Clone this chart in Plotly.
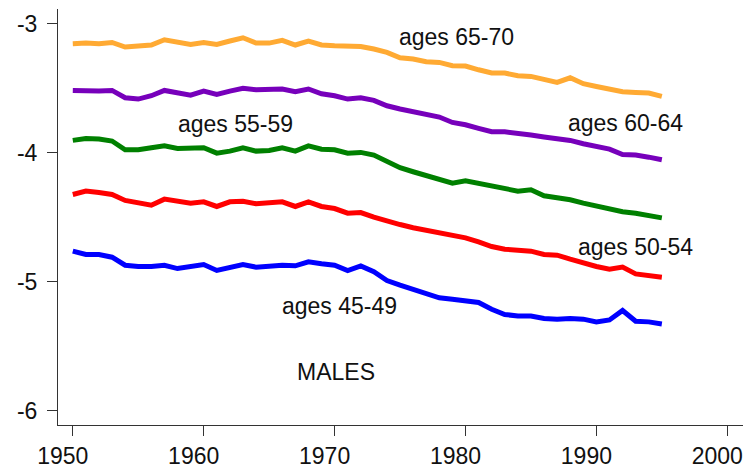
import plotly.graph_objects as go

years = list(range(1950, 1996))

ages_65_70 = [-3.155, -3.150, -3.155, -3.145, -3.181, -3.171, -3.165, -3.124, -3.140, -3.160,
              -3.145, -3.160, -3.134, -3.109, -3.150, -3.150, -3.129, -3.165, -3.134, -3.165,
              -3.171, -3.176, -3.176, -3.196, -3.222, -3.264, -3.274, -3.295, -3.300, -3.326,
              -3.328, -3.357, -3.382, -3.382, -3.403, -3.408, -3.429, -3.455, -3.419, -3.465,
              -3.486, -3.506, -3.527, -3.532, -3.537, -3.563]
ages_60_64 = [-3.517, -3.522, -3.522, -3.517, -3.574, -3.584, -3.558, -3.517, -3.537, -3.553,
              -3.522, -3.548, -3.522, -3.501, -3.512, -3.512, -3.506, -3.527, -3.506, -3.543,
              -3.558, -3.584, -3.574, -3.594, -3.636, -3.661, -3.682, -3.708, -3.723, -3.765,
              -3.783, -3.811, -3.837, -3.837, -3.847, -3.863, -3.878, -3.889, -3.904, -3.930,
              -3.951, -3.972, -4.013, -4.018, -4.034, -4.054]
ages_55_59 = [-3.904, -3.889, -3.894, -3.909, -3.977, -3.977, -3.961, -3.946, -3.966, -3.966,
              -3.961, -4.003, -3.987, -3.961, -3.987, -3.982, -3.961, -3.987, -3.946, -3.972,
              -3.977, -4.003, -3.997, -4.018, -4.070, -4.116, -4.147, -4.178, -4.209, -4.235,
              -4.217, -4.235, -4.261, -4.276, -4.297, -4.287, -4.333, -4.349, -4.364, -4.390,
              -4.411, -4.432, -4.457, -4.468, -4.488, -4.504]
ages_50_54 = [-4.323, -4.297, -4.307, -4.323, -4.369, -4.385, -4.406, -4.359, -4.375, -4.390,
              -4.380, -4.416, -4.380, -4.375, -4.395, -4.390, -4.380, -4.416, -4.380, -4.416,
              -4.432, -4.468, -4.463, -4.499, -4.530, -4.556, -4.581, -4.602, -4.623, -4.643,
              -4.659, -4.690, -4.726, -4.747, -4.757, -4.762, -4.788, -4.793, -4.824, -4.855,
              -4.881, -4.902, -4.886, -4.938, -4.953, -4.964]
ages_45_49 = [-4.762, -4.788, -4.788, -4.809, -4.871, -4.881, -4.881, -4.871, -4.897, -4.886,
              -4.866, -4.912, -4.891, -4.866, -4.886, -4.881, -4.871, -4.876, -4.845, -4.860,
              -4.871, -4.912, -4.876, -4.922, -4.990, -5.026, -5.062, -5.093, -5.124, -5.134,
              -5.147, -5.160, -5.212, -5.253, -5.264, -5.264, -5.284, -5.289, -5.284, -5.289,
              -5.310, -5.295, -5.222, -5.305, -5.310, -5.326]

series_names = ["ages 65-70", "ages 60-64", "ages 55-59", "ages 50-54", "ages 45-49"]
series_values = [ages_65_70, ages_60_64, ages_55_59, ages_50_54, ages_45_49]
series_colors = ["#FFAA33", "#7700BB", "#008000", "#FF0000", "#0000FF"]

# label anchor positions (data coords)
label_x = [1979.3, 1992.2, 1962.4, 1993.0, 1970.4]
label_y = [-3.10, -3.77, -3.78, -4.73, -5.19]

x_ticks = [1950, 1960, 1970, 1980, 1990, 2000]
x_tick_text = ["1950", "1960", "1970", "1980", "1990", "2000"]
y_ticks = [-6, -5, -4, -3]
y_tick_text = ["-6", "-5", "-4", "-3"]

fig = go.Figure()
for name, vals, col in zip(series_names, series_values, series_colors):
    fig.add_trace(go.Scatter(x=years, y=vals, mode="lines", name=name,
                             line=dict(color=col, width=5), showlegend=False))

font = dict(family="Arial, Liberation Sans, sans-serif", size=23, color="#111111")

for name, lx, ly in zip(series_names, label_x, label_y):
    fig.add_annotation(x=lx, y=ly, text=name, showarrow=False, font=font,
                       xanchor="center", yanchor="middle")
fig.add_annotation(x=1970.1, y=-5.70, text="MALES", showarrow=False, font=font,
                   xanchor="center", yanchor="middle")

fig.update_layout(
    width=755, height=472,
    margin=dict(l=58, r=12, t=9, b=47, autoexpand=False),
    paper_bgcolor="white", plot_bgcolor="white",
    font=font,
)
fig.update_xaxes(range=[1948.87, 2001.2], tickvals=x_ticks, ticktext=x_tick_text,
                 showgrid=False, zeroline=False, automargin=False,
                 showline=True, linecolor="#333333", linewidth=1, ticklabelshift=-10,
                 ticks="outside", ticklen=10, tickcolor="#333333", tickfont=font)
fig.update_yaxes(range=[-6.109, -2.886], tickvals=y_ticks, ticktext=y_tick_text,
                 showgrid=False, zeroline=False, automargin=False, ticklabelstandoff=5,
                 showline=True, linecolor="#333333", linewidth=1,
                 ticks="outside", ticklen=10, tickcolor="#333333", tickfont=font)

fig.write_html("out.html", config={"displayModeBar": False},
               post_script="document.body.style.margin='0';")
